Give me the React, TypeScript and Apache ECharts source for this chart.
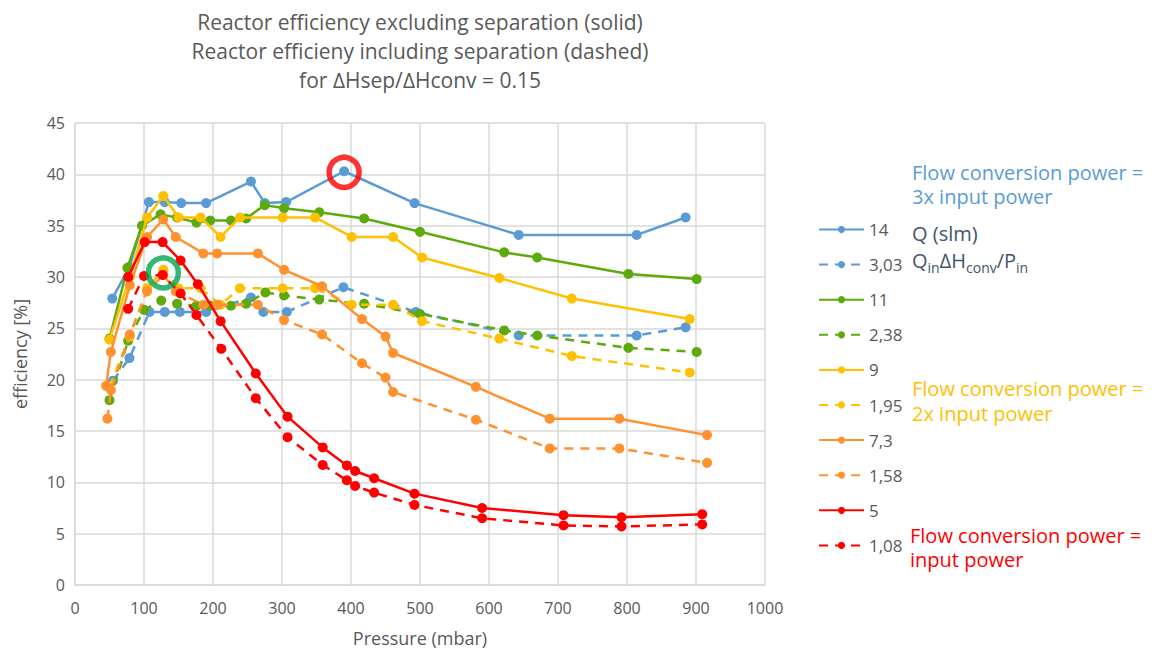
import React, { useEffect, useRef } from "react";
import * as echarts from "echarts";

const FONT = "'Open Sans', 'Noto Sans', sans-serif";
const GREY = "#595959";

const titleLines = [
  "Reactor efficiency excluding separation (solid)",
  "Reactor efficieny including separation (dashed)",
  "for \u2206Hsep/\u2206Hconv = 0.15",
];

const seriesNames = ["14", "3,03", "11", "2,38", "9", "1,95", "7,3", "1,58", "5", "1,08"];
const seriesColors = ["#5B9BD5", "#5B9BD5", "#5CAA0C", "#5CAA0C", "#FFC000", "#FFC000", "#FF912E", "#FF912E", "#FF0000", "#FF0000"];
const seriesDashed = [false, true, false, true, false, true, false, true, false, true];

const q14: [number, number][] = [
  [54, 27.9], [79, 31.0], [107, 37.3], [130, 37.3], [154, 37.2], [190, 37.2], [255, 39.3], [275, 37.2],
  [306, 37.3], [390, 40.3], [492, 37.2], [643, 34.1], [814, 34.1], [885, 35.8],
];
const q303: [number, number][] = [
  [55, 19.9], [79, 22.1], [108, 26.6], [130, 26.6], [152, 26.6], [190, 26.6], [255, 28.0], [273, 26.6],
  [307, 26.6], [389, 29.0], [494, 26.6], [643, 24.3], [814, 24.3], [885, 25.1],
];
const q11: [number, number][] = [
  [50, 24.0], [76, 30.9], [97, 35.0], [124, 36.1], [148, 35.8], [176, 35.3], [196, 35.5], [226, 35.5],
  [248, 35.7], [275, 37.0], [303, 36.7], [354, 36.3], [419, 35.7], [500, 34.4], [622, 32.4], [670, 31.9],
  [802, 30.3], [901, 29.8],
];
const q238: [number, number][] = [
  [50, 18.0], [77, 23.8], [100, 26.8], [125, 27.7], [148, 27.4], [176, 27.2], [196, 27.2], [226, 27.2],
  [248, 27.4], [276, 28.5], [303, 28.2], [354, 27.8], [419, 27.4], [500, 26.4], [622, 24.8], [670, 24.3],
  [802, 23.1], [901, 22.7],
];
const q9: [number, number][] = [
  [50, 23.9], [79.5, 30.0], [104.5, 35.8], [128, 37.9], [150, 35.8], [182, 35.8], [211, 33.9], [239, 35.8],
  [301, 35.8], [348, 35.8], [401, 33.9], [461, 33.9], [503, 31.9], [615, 29.9], [720, 27.9], [891, 25.9],
];
const q195: [number, number][] = [
  [50, 19.3], [79.5, 24.2], [104.5, 28.9], [128, 30.7], [150, 28.9], [182, 28.9], [211, 27.3], [239, 28.9],
  [301, 28.9], [348, 28.9], [401, 27.3], [461, 27.3], [503, 25.7], [615, 24.0], [720, 22.3], [891, 20.7],
];
const q73: [number, number][] = [
  [45, 19.4], [52, 22.7], [79.5, 29.2], [104.5, 33.9], [128, 35.6], [146, 33.9], [186, 32.3], [206, 32.3],
  [265, 32.3], [303, 30.7], [358, 29.1], [416, 25.9], [450, 24.2], [461, 22.6], [581, 19.3], [688, 16.2],
  [789, 16.2], [916, 14.6],
];
const q158: [number, number][] = [
  [47, 16.2], [52, 19.0], [79.5, 24.4], [104.5, 28.6], [128, 30.2], [146, 28.6], [186, 27.3], [206, 27.3],
  [265, 27.3], [303, 25.8], [358, 24.4], [416, 21.6], [450, 20.2], [461, 18.8], [581, 16.1], [688, 13.3],
  [789, 13.3], [916, 11.9],
];
const q5: [number, number][] = [
  [77, 30.0], [101, 33.4], [127, 33.4], [153, 31.6], [178, 29.3], [211, 25.7], [262, 20.6], [308, 16.4],
  [359, 13.4], [394, 11.65], [406, 11.1], [433.5, 10.4], [492, 8.9], [590, 7.5], [708, 6.8], [792, 6.6],
  [909, 6.9],
];
const q108: [number, number][] = [
  [77, 26.9], [100, 30.1], [127, 30.2], [153, 28.4], [176, 26.3], [212, 23.0], [262, 18.2], [308, 14.4],
  [359, 11.7], [394, 10.2], [406, 9.65], [433.5, 9.0], [492, 7.8], [590, 6.5], [708, 5.8], [792, 5.7],
  [909, 5.9],
];
const seriesData = [q14, q303, q11, q238, q9, q195, q73, q158, q5, q108];

const redMark: [number, number][] = [[390, 40.2]];
const greenMark: [number, number][] = [[128, 30.4]];

const noteLines: { text: string; x: number; y: number; color: string }[] = [
  { text: "Flow conversion power =", x: 912, y: 172, color: "#5B9BD5" },
  { text: "3x input power", x: 912, y: 196.5, color: "#5B9BD5" },
  { text: "Flow conversion power =", x: 912, y: 388.5, color: "#FFC000" },
  { text: "2x input power", x: 912, y: 413, color: "#FFC000" },
  { text: "Flow conversion power =", x: 910, y: 535, color: "#FF0000" },
  { text: "input power", x: 910, y: 559.5, color: "#FF0000" },
];

export default function App() {
  const ref = useRef<HTMLDivElement>(null);
  useEffect(() => {
    if (!ref.current) return;
    const chart = echarts.init(ref.current, undefined, { renderer: "svg" });
    const lineSeries = seriesNames.map((name, i) => ({
      name,
      type: "line",
      data: seriesData[i],
      symbol: "circle",
      symbolSize: 10,
      showSymbol: true,
      color: seriesColors[i],
      lineStyle: {
        width: 2.5,
        color: seriesColors[i],
        type: seriesDashed[i] ? [9, 7] : "solid",
      },
      itemStyle: { color: seriesColors[i] },
      z: 2 + i,
    }));
    const markSeries = [
      { data: redMark, color: "#FF0000" },
      { data: greenMark, color: "#00A651" },
    ].map((m, i) => ({
      name: "mark" + i,
      type: "scatter",
      data: m.data,
      symbol: "circle",
      symbolSize: 30,
      itemStyle: { color: "rgba(0,0,0,0)", borderColor: m.color, borderWidth: 5.5 },
      z: 20,
      silent: true,
    }));
    const noteGraphics = noteLines.map((n) => ({
      type: "text",
      x: n.x,
      y: n.y,
      style: {
        text: n.text,
        fontSize: 20,
        lineHeight: 22,
        fill: n.color,
        fontFamily: FONT,
        verticalAlign: "middle",
      },
    }));
    chart.setOption({
      animation: false,
      textStyle: { fontFamily: FONT },
      grid: { left: 75, top: 123, right: 391, bottom: 68, containLabel: false },
      xAxis: {
        type: "value",
        min: 0,
        max: 1000,
        interval: 100,
        name: "Pressure (mbar)",
        nameLocation: "middle",
        nameGap: 44,
        nameTextStyle: { color: GREY, fontSize: 18, fontFamily: FONT },
        axisLine: { show: true, lineStyle: { color: "#D9D9D9", width: 1.5 } },
        axisTick: { show: false },
        axisLabel: { color: GREY, fontSize: 16, margin: 15, fontFamily: FONT, formatter: (v: number) => String(v) },
        splitLine: { show: true, lineStyle: { color: "#D9D9D9", width: 1.5 } },
      },
      yAxis: {
        type: "value",
        min: 0,
        max: 45,
        interval: 5,
        name: "efficiency [%]",
        nameLocation: "middle",
        nameGap: 46,
        nameRotate: 90,
        nameTextStyle: { color: GREY, fontSize: 18, fontFamily: FONT },
        axisLine: { show: true, lineStyle: { color: "#D9D9D9", width: 1.5 } },
        axisTick: { show: false },
        axisLabel: { color: GREY, fontSize: 16, margin: 10, fontFamily: FONT },
        splitLine: { show: true, lineStyle: { color: "#D9D9D9", width: 1.5 } },
      },
      legend: {
        data: seriesNames,
        orient: "vertical",
        left: 813,
        top: 216,
        itemWidth: 45,
        itemHeight: 9,
        itemGap: 18.1,
        textStyle: { color: GREY, fontSize: 17, fontFamily: FONT },
        selectedMode: false,
      },
      graphic: [
        {
          type: "text",
          x: 420,
          y: 7,
          style: {
            text: titleLines.join("\n"),
            textAlign: "center",
            fontSize: 21,
            lineHeight: 29,
            fill: GREY,
            fontFamily: FONT,
          },
        },
        ...noteGraphics,
        {
          type: "text",
          x: 912,
          y: 220,
          style: {
            text: "{a|Q (slm)}\n{a|Q}{s|in}{a|\u2206H}{s|conv}{a|/P}{s|in}",
            fill: "#44546A",
            fontFamily: FONT,
            rich: {
              a: { fontSize: 20, lineHeight: 27, fill: "#44546A", fontFamily: FONT, verticalAlign: "middle" },
              s: { fontSize: 14, lineHeight: 27, fill: "#44546A", fontFamily: FONT, verticalAlign: "bottom" },
            },
          },
        },
      ],
      series: [...lineSeries, ...markSeries],
    });
    return () => chart.dispose();
  }, []);
  return <div ref={ref} style={{ width: 1156, height: 653, position: "absolute", left: 0, top: 0 }} />;
}
